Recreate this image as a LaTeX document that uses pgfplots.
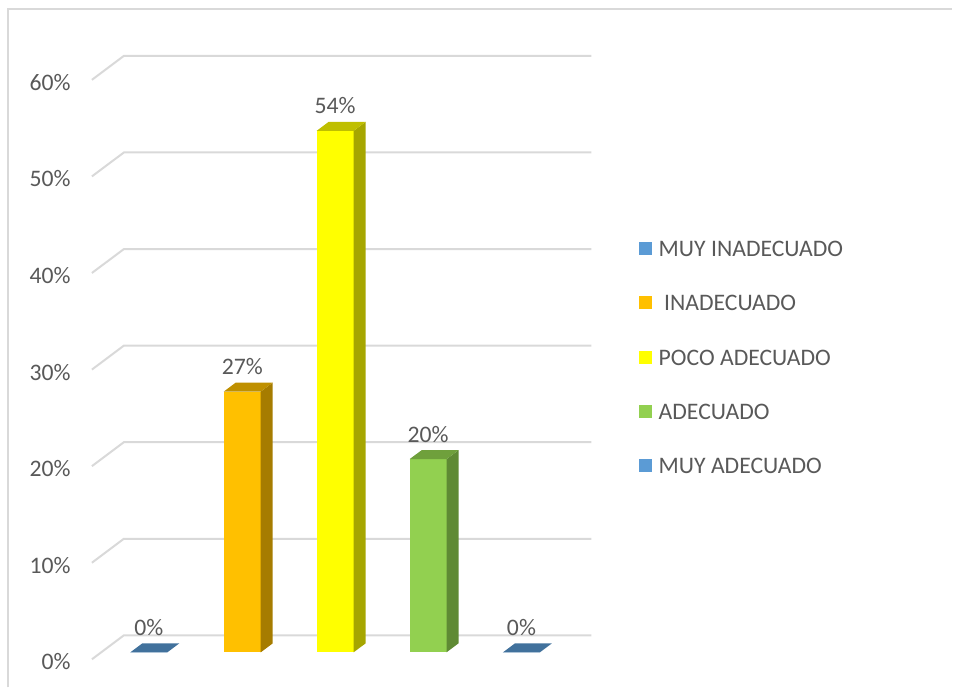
\documentclass[border=0pt]{standalone}
\usepackage{fontspec}
\setmainfont{Carlito}
\usepackage{pgfplots}
\pgfplotsset{compat=1.18}
\definecolor{txt}{HTML}{595959}
\definecolor{gridc}{HTML}{D9D9D9}
\definecolor{blueL}{HTML}{5B9BD5}
\definecolor{blueT}{HTML}{41719C}
\definecolor{orF}{HTML}{FFC000}
\definecolor{orS}{HTML}{A67C00}
\definecolor{orT}{HTML}{BF9000}
\definecolor{yeF}{HTML}{FFFF00}
\definecolor{yeS}{HTML}{A6A600}
\definecolor{yeT}{HTML}{BFBF00}
\definecolor{grF}{HTML}{92D050}
\definecolor{grS}{HTML}{5F8A34}
\definecolor{grT}{HTML}{6FA03C}
\begin{document}
\begin{tikzpicture}[font=\fontsize{11.85bp}{14bp}\selectfont, text=txt]
\begin{axis}[
  scale only axis, width=476.5bp, height=348.5bp,
  xmin=0, xmax=953, ymin=-4.55, ymax=67.55,
  hide axis, clip=false,
  /pgf/number format/assume math mode=true,
  mybar/.style={ybar, bar width=37, bar shift=0pt, draw=none,
    point meta=y,
    nodes near coords={\pgfmathprintnumber[assume math mode=true]{\pgfplotspointmeta}\%},
    every node near coord/.style={anchor=center, yshift=12.5bp, inner sep=0pt, text=txt, font=\fontsize{11.85bp}{14bp}\selectfont}},
  face/.style={draw=none, forget plot},
  legend image code/.code={\fill[#1] (0bp,-3.25bp) rectangle (6.5bp,3.25bp);},
  legend cell align=left,
  legend style={at={(axis cs:639,42.72)}, anchor=north west, draw=none, fill=none,
    inner sep=0pt, row sep=19.25bp,
    nodes={inner sep=0pt, text height=8bp, text depth=0pt, text=txt},
    /tikz/every odd column/.append style={column sep=3.5bp},
    font=\fontsize{11.85bp}{14bp}\selectfont},
]
% border
\draw[gridc, line width=1bp] (axis cs:8,-3.62) -- (axis cs:8,66.62) -- (axis cs:953,66.62);
% gridlines
\addplot[gridc, line width=1bp, forget plot] coordinates {(92,-0.72) (124,1.76) (592,1.76)};
\addplot[gridc, line width=1bp, forget plot] coordinates {(92,9.28) (124,11.76) (592,11.76)};
\addplot[gridc, line width=1bp, forget plot] coordinates {(92,19.28) (124,21.76) (592,21.76)};
\addplot[gridc, line width=1bp, forget plot] coordinates {(92,29.28) (124,31.76) (592,31.76)};
\addplot[gridc, line width=1bp, forget plot] coordinates {(92,39.28) (124,41.76) (592,41.76)};
\addplot[gridc, line width=1bp, forget plot] coordinates {(92,49.28) (124,51.76) (592,51.76)};
\addplot[gridc, line width=1bp, forget plot] coordinates {(92,59.28) (124,61.76) (592,61.76)};
% y labels
\node[anchor=east, inner sep=0pt] at (axis cs:71,-0.98) {0\%};
\node[anchor=east, inner sep=0pt] at (axis cs:71,9.02) {10\%};
\node[anchor=east, inner sep=0pt] at (axis cs:71,19.02) {20\%};
\node[anchor=east, inner sep=0pt] at (axis cs:71,29.02) {30\%};
\node[anchor=east, inner sep=0pt] at (axis cs:71,39.02) {40\%};
\node[anchor=east, inner sep=0pt] at (axis cs:71,49.02) {50\%};
\node[anchor=east, inner sep=0pt] at (axis cs:71,59.02) {60\%};
% MUY INADECUADO
\addplot[mybar, fill=blueL] coordinates {(149,0)};
\addplot[face, fill=blueT] coordinates {(130.5,0) (142.5,0.93) (179.5,0.93) (167.5,0)} -- cycle;
% INADECUADO
\addplot[mybar, fill=orF] coordinates {(242.5,27)};
\addplot[face, fill=orS] coordinates {(261,0) (273,0.93) (273,27.93) (261,27)} -- cycle;
\addplot[face, fill=orT] coordinates {(224,27) (236,27.93) (273,27.93) (261,27)} -- cycle;
% POCO ADECUADO
\addplot[mybar, fill=yeF] coordinates {(335.5,54)};
\addplot[face, fill=yeS] coordinates {(354,0) (366,0.93) (366,54.93) (354,54)} -- cycle;
\addplot[face, fill=yeT] coordinates {(317,54) (329,54.93) (366,54.93) (354,54)} -- cycle;
% ADECUADO
\addplot[mybar, fill=grF] coordinates {(428.5,20)};
\addplot[face, fill=grS] coordinates {(447,0) (459,0.93) (459,20.93) (447,20)} -- cycle;
\addplot[face, fill=grT] coordinates {(410,20) (422,20.93) (459,20.93) (447,20)} -- cycle;
% MUY ADECUADO
\addplot[mybar, fill=blueL] coordinates {(522,0)};
\addplot[face, fill=blueT] coordinates {(503.5,0) (515.5,0.93) (552.5,0.93) (540.5,0)} -- cycle;
\legend{MUY INADECUADO, {\ INADECUADO}, POCO ADECUADO, ADECUADO, MUY ADECUADO}
\path (axis cs:0,-4.55) rectangle (axis cs:953,67.55);
\end{axis}
\end{tikzpicture}
\end{document}
